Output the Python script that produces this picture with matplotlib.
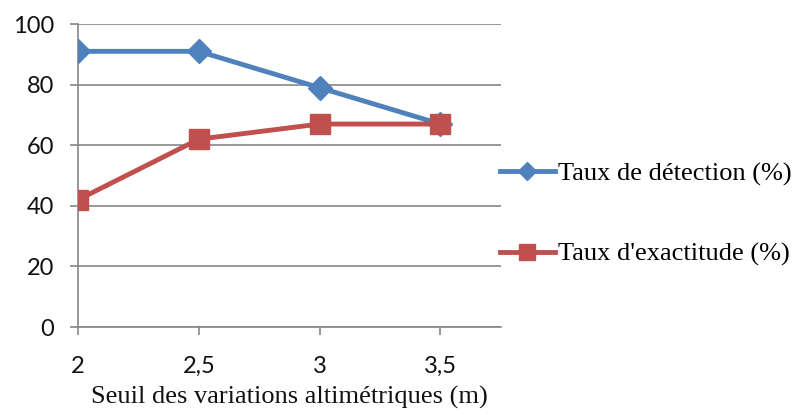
import matplotlib.pyplot as plt

seuils = ["2", "2,5", "3", "3,5"]
detection = [91, 91, 79, 67]
exactitude = [42, 62, 67, 67]

blue = "#4F81BD"
red = "#C0504D"
grid_col = "#868686"

fig = plt.figure(figsize=(8.1, 4.15), dpi=100)
ax = fig.add_axes([0.0963, 0.212, 0.522, 0.730])

x = range(len(seuils))
ax.plot(x, detection, color=blue, lw=3.5, marker="D", ms=12,
        label="Taux de détection (%)", zorder=3)
ax.plot(x, exactitude, color=red, lw=3.5, marker="s", ms=15,
        label="Taux d'exactitude (%)", zorder=4)

ax.set_xlim(0, 3.5)
ax.set_ylim(0, 100)
ax.set_yticks(range(0, 101, 20))
ax.set_xticks(list(x))
ax.set_xticklabels(seuils)
ax.yaxis.grid(True, color=grid_col, lw=1.2)
ax.set_axisbelow(True)
for s in ["top", "right"]:
    ax.spines[s].set_visible(False)
for s in ["left", "bottom"]:
    ax.spines[s].set_color(grid_col)
    ax.spines[s].set_linewidth(1.2)
ax.tick_params(colors=grid_col, length=6, width=1.2, labelsize=17,
               labelcolor="#111111")
ax.tick_params(axis="y", pad=11)
ax.tick_params(axis="x", pad=15)
for lab in ax.get_xticklabels() + ax.get_yticklabels():
    lab.set_fontfamily("Lato")

ax.set_xlabel("Seuil des variations altimétriques (m)", family="Liberation Serif",
              fontsize=19, color="#111111", labelpad=6)

fig.legend(loc="center left", bbox_to_anchor=(0.617, 0.484), frameon=False,
           prop={"family": "Liberation Serif", "size": 19},
           handlelength=2.1, handletextpad=0.1, labelspacing=2.15,
           borderaxespad=0, borderpad=0, markerscale=0.75)

fig.savefig("out.png", dpi=100)
